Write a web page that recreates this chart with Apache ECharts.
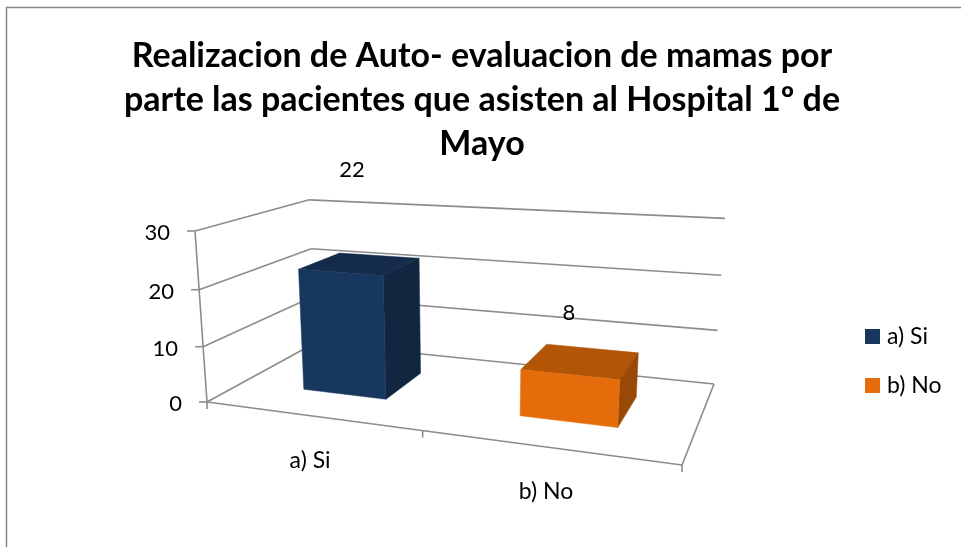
<!DOCTYPE html>
<html>
<head>
<meta charset="utf-8">
<style>
  html, body { margin: 0; padding: 0; background: #fff; }
  #chart { width: 961px; height: 547px; }
</style>
<script src="https://cdn.jsdelivr.net/npm/echarts@6/dist/echarts.min.js"></script>
</head>
<body>
<div id="chart"></div>
<script>
var titleText = 'Realizacion de Auto- evaluacion de mamas por\nparte las pacientes que asisten al Hospital 1º de\nMayo';
var categories = ['a) Si', 'b) No'];
var values = [22, 8];
var yTicks = [0, 10, 20, 30];
var xTicks = [0, 1, 2];

var fontName = 'Lato, "Open Sans", sans-serif';
var lineColor = '#8c8c8c';
var frontColors = ['#17375e', '#e46c0a'];
var topColors = ['#142b4b', '#b25507'];
var sideColors = ['#11263f', '#984807'];
// excel deja las etiquetas muy por encima de la barra
var labelLift = [102, 61];
var labelNudge = [14, 2];

// hidden plane: the axes give u/v, the perspective below turns them into the 3d look
var gridRect = {left: 100, top: 100, width: 600, height: 300};

// floor corners on screen, then the top of the box
var floorFL = [207, 402], floorFR = [682, 465], floorBR = [714, 384], floorBL = [315, 343];
var topFL = [195, 231], topBR = [725, 221];

var dx1 = floorFR[0] - floorBR[0], dy1 = floorFR[1] - floorBR[1];
var dx2 = floorBL[0] - floorBR[0], dy2 = floorBL[1] - floorBR[1];
var sx = floorFL[0] - floorFR[0] + floorBR[0] - floorBL[0];
var sy = floorFL[1] - floorFR[1] + floorBR[1] - floorBL[1];
var den = dx1 * dy2 - dx2 * dy1;
var g = (sx * dy2 - dx2 * sy) / den;
var h = (dx1 * sy - sx * dy1) / den;
var a = floorFR[0] - floorFL[0] + g * floorFR[0];
var b = floorBL[0] - floorFL[0] + h * floorBL[0];
var d = floorFR[1] - floorFL[1] + g * floorFR[1];
var e = floorBL[1] - floorFL[1] + h * floorBL[1];
var w2 = 1 + g + h;
var r = -((topBR[0] - floorBR[0]) * w2 + floorFL[0] - topFL[0]) / (topBR[0] - topFL[0]);
var p = topFL[0] * (1 + r) - floorFL[0];
var q = topFL[1] * (1 + r) - floorFL[1];

function project(api, x, y, z) {
  var c = api.coord([x, y]);
  var u = (c[0] - gridRect.left) / gridRect.width;
  var v = (gridRect.top + gridRect.height - c[1]) / gridRect.height;
  var w = g * u + h * z + r * v + 1;
  return [
    (a * u + b * z + floorFL[0] + p * v) / w,
    (d * u + e * z + floorFL[1] + q * v) / w
  ];
}

function line(p1, p2) {
  return {
    type: 'line',
    shape: {x1: p1[0], y1: p1[1], x2: p2[0], y2: p2[1]},
    style: {stroke: lineColor, lineWidth: 1.6}
  };
}

function label(text, x, y, align, size) {
  return {
    type: 'text',
    style: {
      text: text, x: x, y: y,
      textAlign: align, textVerticalAlign: 'middle',
      fill: '#000', font: size + 'px ' + fontName
    }
  };
}

function poly(points, color) {
  return {
    type: 'polygon',
    shape: {points: points},
    style: {fill: color, stroke: color, lineWidth: 0.5}
  };
}

function renderFrame(params, api) {
  var val = api.value(0);
  var children = [];
  var front = project(api, 0, val, 0);
  var back = project(api, 0, val, 1);
  children.push(line(front, back));
  children.push(line(back, project(api, 2, val, 1)));
  children.push(line([front[0] - 8, front[1]], front));
  children.push(label(String(val), front[0] - 25, front[1] + 2, 'right', 22));
  if (params.dataIndex === 0) {
    children.push(line(project(api, 0, 0, 0), project(api, 0, 30, 0)));
    children.push(line(project(api, 0, 0, 0), project(api, 2, 0, 0)));
    children.push(line(project(api, 2, 0, 0), project(api, 2, 0, 1)));
    xTicks.forEach(function (t) {
      var pt = project(api, t, 0, 0);
      children.push(line(pt, [pt[0], pt[1] + 7]));
    });
    categories.forEach(function (name, i) {
      var pt = project(api, i + 0.5, 0, 0);
      children.push(label(name, pt[0], pt[1] + 45, 'center', 23));
    });
  }
  return {type: 'group', children: children};
}

function renderBar(params, api) {
  var idx = api.value(0);
  var val = api.value(1);
  var x0 = idx + 0.31, x1 = idx + 0.71, z0 = 0.3, z1 = 0.7;
  var fb0 = project(api, x0, 0, z0), fb1 = project(api, x1, 0, z0);
  var ft0 = project(api, x0, val, z0), ft1 = project(api, x1, val, z0);
  var bb1 = project(api, x1, 0, z1);
  var bt0 = project(api, x0, val, z1), bt1 = project(api, x1, val, z1);
  var mid = project(api, idx + 0.5, val, z0);
  return {
    type: 'group',
    children: [
      poly([ft0, ft1, bt1, bt0], topColors[idx]),
      poly([ft1, fb1, bb1, bt1], sideColors[idx]),
      poly([ft0, ft1, fb1, fb0], frontColors[idx]),
      label(String(val), mid[0] + labelNudge[idx], mid[1] - labelLift[idx], 'center', 22)
    ]
  };
}

var series = [{
  type: 'custom',
  name: 'frame',
  silent: true,
  z: 1,
  renderItem: renderFrame,
  data: yTicks.map(function (t) { return [t]; }),
  encode: {y: 0}
}];
categories.forEach(function (name, i) {
  series.push({
    type: 'custom',
    name: name,
    z: 2,
    itemStyle: {color: frontColors[i]},
    renderItem: renderBar,
    data: [[i, values[i]]],
    encode: {x: 0, y: 1}
  });
});

var chart = echarts.init(document.getElementById('chart'));
chart.setOption({
  animation: false,
  backgroundColor: '#fff',
  textStyle: {fontFamily: fontName},
  title: {
    text: titleText,
    left: 477,
    top: 29,
    textAlign: 'center',
    textStyle: {fontFamily: fontName, fontSize: 34, fontWeight: 'bold', color: '#000', lineHeight: 44}
  },
  legend: {
    data: categories,
    orient: 'vertical',
    left: 865,
    top: 325,
    padding: 0,
    icon: 'rect',
    itemWidth: 15,
    itemHeight: 15,
    itemGap: 26,
    selectedMode: false,
    textStyle: {fontFamily: fontName, fontSize: 23, color: '#000', padding: [0, 0, 0, 2]}
  },
  tooltip: {show: false},
  grid: gridRect,
  xAxis: {type: 'value', min: 0, max: 2, show: false},
  yAxis: {type: 'value', min: 0, max: 30, interval: 10, show: false},
  graphic: [{
    type: 'polyline',
    shape: {points: [[6.5, 547], [6.5, 7.5], [961, 7.5]]},
    style: {stroke: '#868686', lineWidth: 1.5, fill: null},
    silent: true
  }],
  series: series
});
</script>
</body>
</html>
